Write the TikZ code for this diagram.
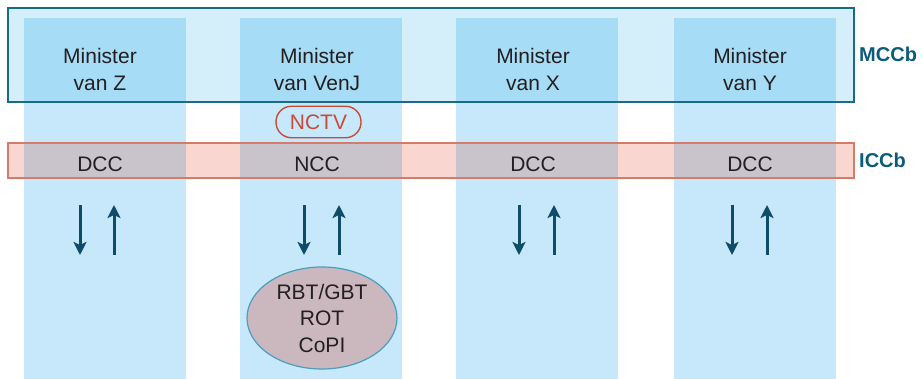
\documentclass[tikz,border=0pt]{standalone}
\usepackage{fontspec}
\setmainfont{Liberation Sans}
\usetikzlibrary{arrows.meta,shapes.geometric}
\definecolor{mccfill}{HTML}{D4EEFA}
\definecolor{colfill}{HTML}{C6E8FA}
\definecolor{colmcc}{HTML}{A6DCF5}
\definecolor{iccfill}{HTML}{F9D6D0}
\definecolor{colicc}{HTML}{C9C3CB}
\definecolor{mccline}{HTML}{1A6A84}
\definecolor{iccline}{HTML}{D57B6A}
\definecolor{arrowcol}{HTML}{0F4C69}
\definecolor{ellfill}{HTML}{CBB8BE}
\definecolor{ellline}{HTML}{4A9EC0}
\definecolor{txt}{HTML}{231F20}
\definecolor{nctvred}{HTML}{C64B38}
\definecolor{labelcol}{HTML}{0B5B7B}
\begin{document}
\begin{tikzpicture}[x=1pt,y=-1pt,
  mintext/.style={align=center,text=txt,font=\fontsize{21}{27}\selectfont,inner sep=0pt},
  cctext/.style={text=txt,font=\fontsize{21}{27}\selectfont,inner sep=0pt},
  sidelabel/.style={anchor=west,text=labelcol,font=\fontsize{20}{24}\selectfont\bfseries,inner sep=0pt},
  flow/.style={draw=arrowcol,line width=3pt,-{Stealth[length=13pt,width=13pt,inset=3pt]}},
  nctvbox/.style={draw=nctvred,line width=1.4pt,rounded corners=15.5pt,minimum width=85pt,minimum height=31.5pt,inner sep=0pt,text=nctvred,font=\fontsize{21}{27}\selectfont},
  teamell/.style={ellipse,draw=ellline,line width=1.2pt,fill=ellfill,minimum width=150pt,minimum height=102pt,inner sep=0pt,align=center,text=txt,font=\fontsize{21}{26.5}\selectfont}
]
\useasboundingbox (0,0) rectangle (923,379);
% band fills
\fill[mccfill] (8,8) rectangle (854,102);
\fill[iccfill] (8,143) rectangle (854,178);
% columns
\foreach \x in {23.5,240,456,673.5}{
  \fill[colfill] (\x,18) rectangle ++(162,361);
  \fill[colmcc] (\x,18) rectangle ++(162,84);
  \fill[colicc] (\x,143) rectangle ++(162,35);
}
% band outlines
\draw[mccline,line width=1.6pt] (8,8) rectangle (854,102);
\draw[iccline,line width=1.4pt] (8,143) rectangle (854,178);
% labels
\node[sidelabel] (mccb) at (859,54) {MCCb};
\node[sidelabel] (iccb) at (859,160) {ICCb};
% minister nodes
\node[mintext] (m1) at (100,69) {Minister\\van Z};
\node[mintext] (m2) at (317,69) {Minister\\van VenJ};
\node[mintext] (m3) at (533,69) {Minister\\van X};
\node[mintext] (m4) at (750,69) {Minister\\van Y};
% NCTV
\node[nctvbox] (nctv) at (318.5,122) {NCTV};
% DCC / NCC
\node[cctext] (d1) at (100,164) {DCC};
\node[cctext] (n2) at (317,164) {NCC};
\node[cctext] (d3) at (533,164) {DCC};
\node[cctext] (d4) at (750,164) {DCC};
% ellipse
\node[teamell] (team) at (322,318) {RBT/GBT\\ROT\\CoPI};
% arrows
\foreach \i/\a/\b in {1/80/114,2/304/339,3/519/554,4/732/767}{
  \coordinate (dt\i) at (\a,205);
  \coordinate (db\i) at (\a,255);
  \coordinate (ub\i) at (\b,255);
  \coordinate (ut\i) at (\b,205);
  \draw[flow] (dt\i) -- (db\i);
  \draw[flow] (ub\i) -- (ut\i);
}
\end{tikzpicture}
\end{document}
